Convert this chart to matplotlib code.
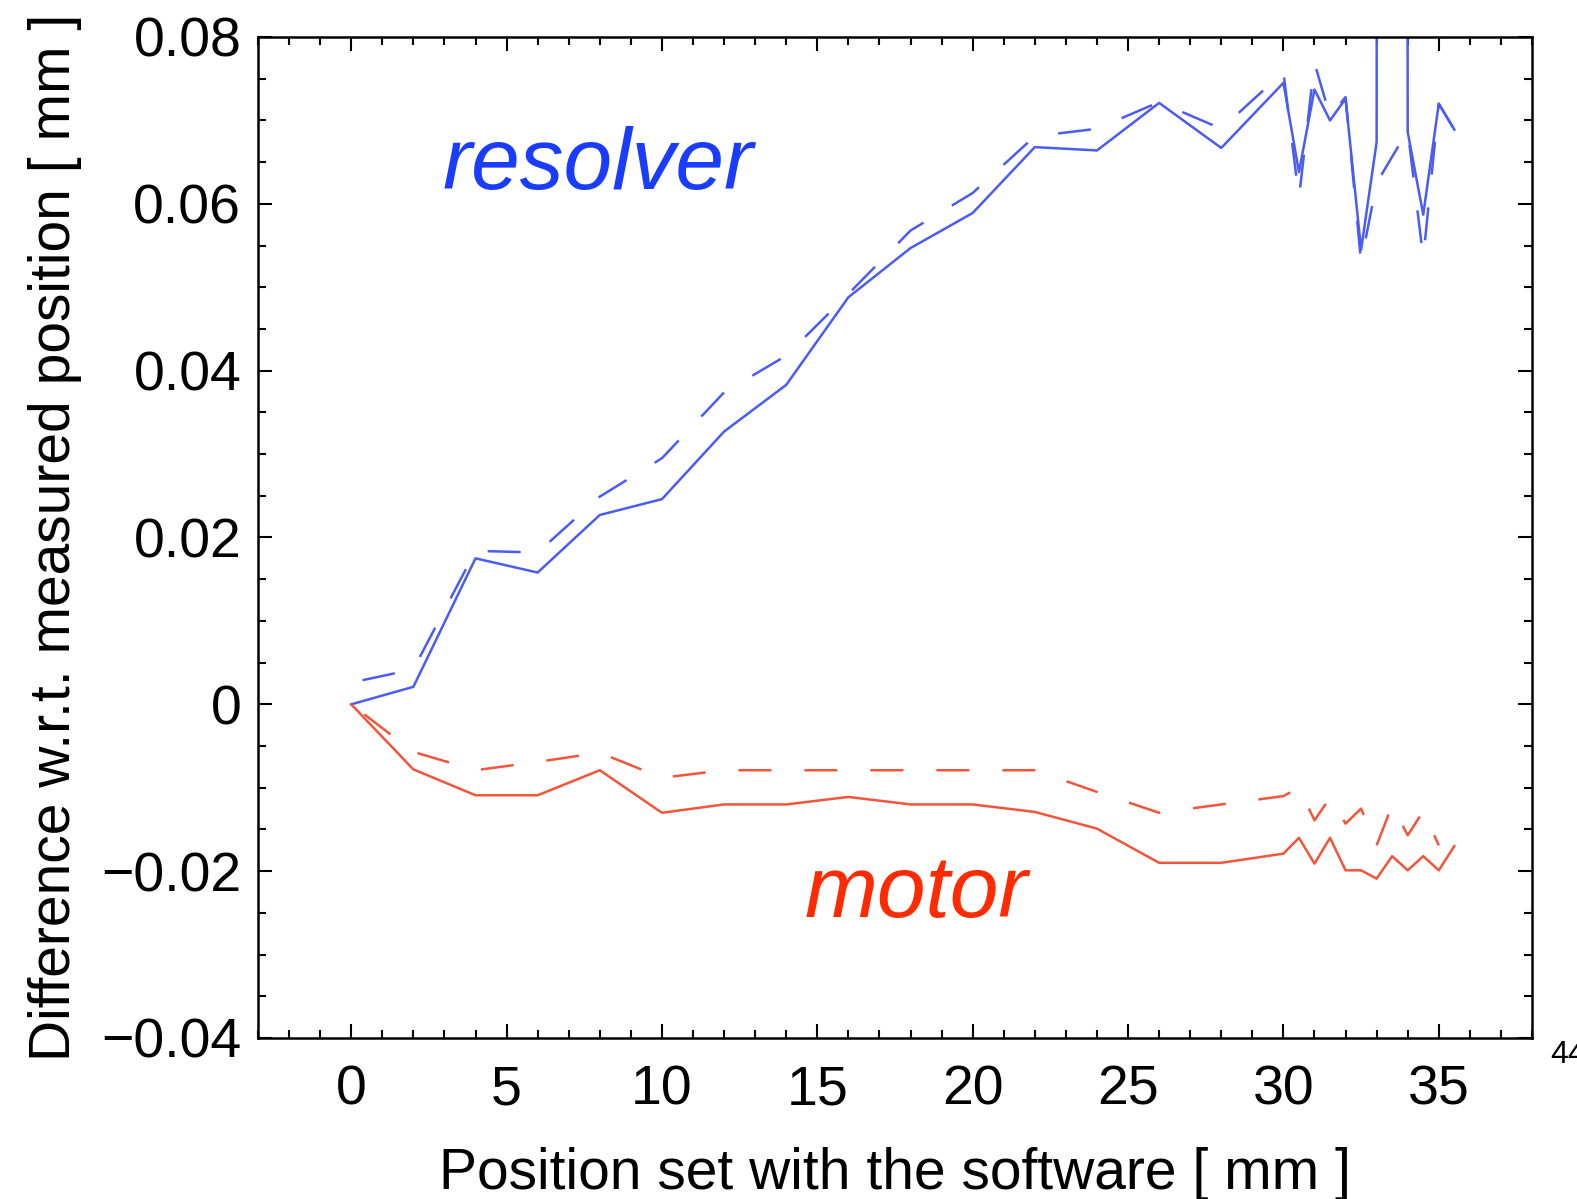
import numpy as np
import matplotlib
matplotlib.use("Agg")
import matplotlib.pyplot as plt
from matplotlib.ticker import MultipleLocator, FixedLocator

plt.rcParams['font.family'] = ['Liberation Sans', 'DejaVu Sans']
plt.rcParams['lines.scale_dashes'] = False
plt.rcParams['axes.unicode_minus'] = True

# position set with the software [mm]
pos = [0, 2, 4, 6, 8, 10, 12, 14, 16, 18, 20, 22, 24, 26, 28, 30,
       30.5, 31, 31.5, 32, 32.5, 33, 33.5, 34, 34.5, 35, 35.5]

# resolver, solid (33.5 is a huge outlier that runs off the top)
res_solid = [0, .0021, .0175, .0158, .0227, .0246, .0327, .0383, .0488, .0547,
             .0589, .0668, .0664, .0721, .0667, .0745,
             .0638, .0737, .0700, .0726, .0545, .0674, 2.0, .0686, .0587, .0720, .0689]

# resolver, dashed
pos_res_dash = [0, 2, 4, 6, 8, 10, 12, 14, 16, 18, 20, 22, 24, 26, 28, 30,
                30.5, 31, 31.5, 32, 32.5, 33, 34, 34.5, 35, 35.5]
res_dash = [.0026, .0042, .0184, .0182, .0249, .0295, .0374, .0418, .0492, .0568,
            .0613, .0681, .0690, .0722, .0690, .0758,
            .0607, .0769, .0705, .0728, .0530, .0625, .0688, .0535, .0720, .0689]

# motor, solid
mot_solid = [0, -.0078, -.0109, -.0109, -.0079, -.0130, -.0120, -.0120, -.0111, -.0120,
             -.0120, -.0129, -.0149, -.0190, -.0190, -.0179,
             -.0160, -.0191, -.0160, -.0199, -.0199, -.0209, -.0182, -.0199, -.0182, -.0199, -.0170]

# motor, dashed
pos_mot_dash = [0, 2, 4, 6, 8, 10, 12, 14, 16, 18, 20, 22, 24, 26, 28, 30,
                30.5, 31, 31.5, 32, 32.5, 33, 33.5, 34, 34.5, 35]
mot_dash = [0, -.0057, -.0079, -.0069, -.0058, -.0088, -.0079, -.0079, -.0079, -.0079,
            -.0079, -.0079, -.0105, -.0130, -.0120, -.0110,
            -.0100, -.0139, -.0112, -.0143, -.0125, -.0169, -.0121, -.0157, -.0128, -.0169]

blue = '#4a5cf2'
red = '#f2553a'

fig = plt.figure(figsize=(15.77, 11.99), dpi=100)
ax = fig.add_axes([258/1577, 1 - 1038/1199, (1532-258)/1577, (1038-37)/1199])

lw = 1.8
dash_px = 33 / 1.389
ax.plot(pos, res_solid, color=blue, lw=lw)
ax.plot(pos_res_dash, res_dash, color=blue, lw=lw,
        linestyle=(dash_px * 1.65, (dash_px, dash_px)))
ax.plot(pos, mot_solid, color=red, lw=lw)
ax.plot(pos_mot_dash, mot_dash, color=red, lw=lw,
        linestyle=(dash_px * 1.5, (dash_px, dash_px)))

ax.set_xlim(-3, 38)
ax.set_ylim(-0.04, 0.08)
ax.xaxis.set_major_locator(FixedLocator([0, 5, 10, 15, 20, 25, 30, 35]))
ax.xaxis.set_minor_locator(MultipleLocator(1))
ax.yaxis.set_major_locator(MultipleLocator(0.02))
ax.yaxis.set_minor_locator(MultipleLocator(0.005))
ax.set_yticks([-0.04, -0.02, 0, 0.02, 0.04, 0.06, 0.08])
ax.set_yticklabels(['\u22120.04', '\u22120.02', '0', '0.02', '0.04', '0.06', '0.08'])

ax.tick_params(which='both', direction='in', top=True, right=True, width=1.5, color='black')
ax.tick_params(which='major', length=10)
ax.tick_params(which='minor', length=5.5)
ax.tick_params(axis='y', which='major', labelsize=40, pad=12)
ax.tick_params(axis='x', which='major', labelsize=40, pad=19)
for s in ax.spines.values():
    s.set_linewidth(1.8)

ax.set_xlabel('Position set with the software [ mm ]', fontsize=41, labelpad=22)
ax.set_ylabel('Difference w.r.t. measured position [ mm ]', fontsize=41, labelpad=14)

ax.text(2.95, 0.0618, 'resolver', color='#1a3cff', fontsize=63, style='italic')
ax.text(14.6, -0.0255, 'motor', color='#ff2a00', fontsize=63, style='italic')

fig.text(1550/1577, 1 - 1063/1199, '44', fontsize=23)

fig.savefig('out.png', dpi=100)
